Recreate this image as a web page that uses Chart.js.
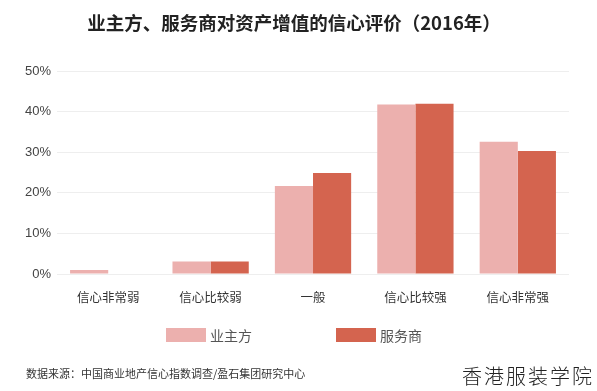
<!DOCTYPE html>
<html>
<head>
<meta charset="utf-8">
<script src="https://cdn.jsdelivr.net/npm/chart.js@4"></script>
<style>
  html, body { margin: 0; padding: 0; background: #fff; }
  #wrap { position: relative; width: 597px; height: 391px; font-family: "Noto Sans CJK SC", sans-serif; }
  #chart { position: absolute; left: 0; top: 0; }
  .legend-item { position: absolute; top: 326px; height: 18px; display: flex; align-items: center; font-size: 14px; color: #555; }
  .legend-item i { display: inline-block; width: 40px; height: 14px; margin-right: 4px; }
  #source { position: absolute; left: 26px; top: 365px; font-size: 11px; color: #333; white-space: nowrap; }
  #mark { position: absolute; left: 462px; top: 361px; font-size: 20px; letter-spacing: 2px; color: #222; font-weight: 300; white-space: nowrap; }
</style>
</head>
<body>
<div id="wrap">
  <canvas id="chart" width="597" height="391"></canvas>
  <div id="legend"></div>
  <div id="source">数据来源：中国商业地产信心指数调查/盈石集团研究中心</div>
  <div id="mark">香港服装学院</div>
</div>
<script>
// categories and values (percent)
const categories = ['信心非常弱', '信心比较弱', '一般', '信心比较强', '信心非常强'];
const ownerValues = [1.0, 3.1, 21.7, 41.8, 32.6];
const providerValues = [0, 3.1, 24.9, 42.0, 30.3];
const seriesNames = ['业主方', '服务商'];
const seriesColors = ['#ecb0ae', '#d4644f'];
const yTicks = [0, 10, 20, 30, 40, 50];

const ctx = document.getElementById('chart').getContext('2d');
const chart = new Chart(ctx, {
    type: 'bar',
    data: {
        labels: categories,
        datasets: [{
            label: seriesNames[0],
            data: ownerValues,
            backgroundColor: seriesColors[0],
            categoryPercentage: 0.745,
            barPercentage: 1.0
        }, {
            label: seriesNames[1],
            data: providerValues,
            backgroundColor: seriesColors[1],
            categoryPercentage: 0.745,
            barPercentage: 1.0
        }]
    },
    options: {
        responsive: false,
        animation: false,
        layout: {
            padding: { left: 19, right: 28, top: 0, bottom: 78 }
        },
        plugins: {
            legend: { display: false },
            tooltip: { enabled: false },
            title: {
                display: true,
                text: '业主方、服务商对资产增值的信心评价（2016年）',
                color: '#222',
                font: { family: '"Noto Sans CJK SC", sans-serif', size: 18.5, weight: 'bold' },
                padding: { top: 12, bottom: 37 }
            }
        },
        scales: {
            x: {
                grid: { display: false },
                border: { display: false },
                ticks: {
                    color: '#333',
                    padding: 8,
                    font: { family: '"Noto Sans CJK SC", sans-serif', size: 12.5 }
                }
            },
            y: {
                min: yTicks[0],
                max: yTicks[yTicks.length - 1],
                afterBuildTicks: function(axis) {
                    axis.ticks = yTicks.map(v => ({ value: v }));
                },
                grid: { color: '#eeeeee', drawTicks: false },
                border: { display: false },
                ticks: {
                    color: '#444',
                    padding: 6,
                    font: { family: '"Liberation Sans", sans-serif', size: 13 },
                    callback: v => v + '%'
                }
            }
        }
    }
});

// legend drawn as html under the chart
const legendPos = [166, 336];
const legendEl = document.getElementById('legend');
seriesNames.forEach((name, i) => {
    const item = document.createElement('div');
    item.className = 'legend-item';
    item.style.left = legendPos[i] + 'px';
    item.innerHTML = '<i style="background:' + seriesColors[i] + '"></i>' + name;
    legendEl.appendChild(item);
});
</script>
</body>
</html>
